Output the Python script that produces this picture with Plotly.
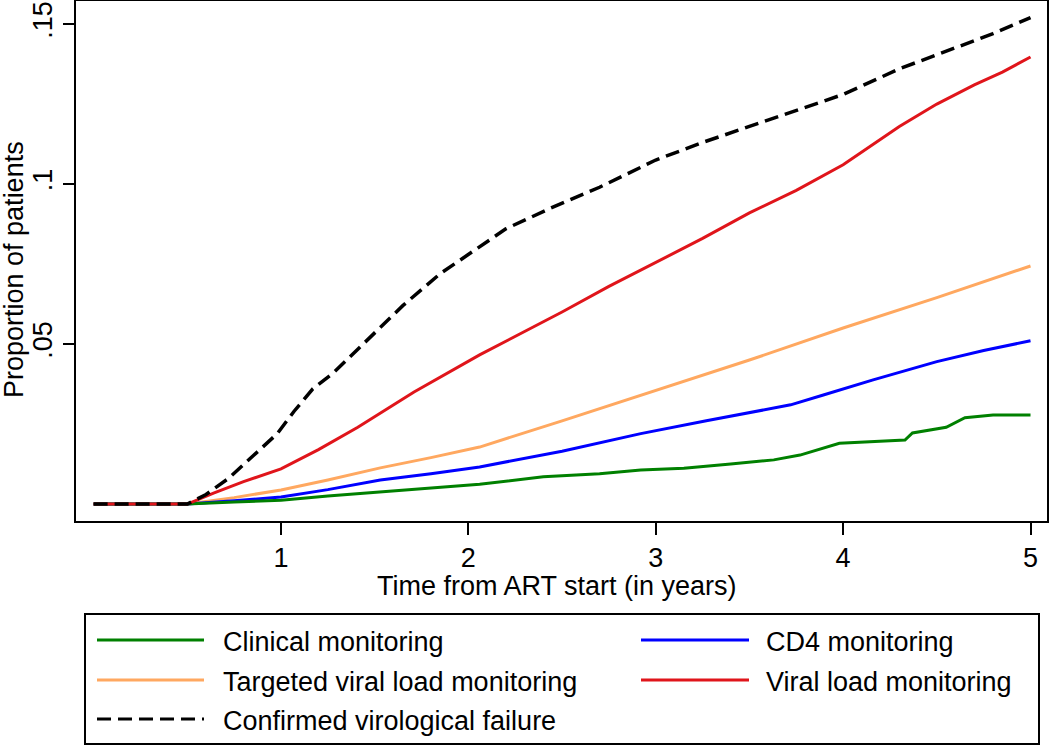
import plotly.graph_objects as go

# ---- data ----
t_clin = [0, 0.5, 0.75, 1.0, 1.25, 1.53, 1.8, 2.06, 2.4, 2.7, 2.92, 3.15, 3.4, 3.63, 3.77, 3.98, 4.33, 4.37, 4.55, 4.65, 4.8, 5.0]
v_clin = [0, 0, 0.0006, 0.0012, 0.0025, 0.0038, 0.005, 0.0062, 0.0085, 0.0095, 0.0106, 0.0112, 0.0125, 0.0138, 0.0153, 0.019, 0.020, 0.0222, 0.024, 0.027, 0.0278, 0.0278]

t_cd4 = [0, 0.5, 0.75, 1.0, 1.25, 1.53, 1.8, 2.06, 2.5, 2.92, 3.27, 3.5, 3.72, 3.89, 4.16, 4.5, 4.75, 5.0]
v_cd4 = [0, 0, 0.001, 0.0022, 0.0045, 0.0075, 0.0095, 0.0116, 0.0165, 0.022, 0.026, 0.0285, 0.031, 0.034, 0.0388, 0.0445, 0.048, 0.051]

t_tvl = [0, 0.5, 0.75, 1.0, 1.25, 1.53, 1.8, 2.06, 2.5, 2.92, 3.5, 4.0, 4.5, 5.0]
v_tvl = [0, 0, 0.002, 0.0044, 0.0075, 0.0113, 0.0145, 0.0178, 0.026, 0.034, 0.045, 0.055, 0.0645, 0.0744]

t_vl = [0, 0.5, 0.64, 0.8, 1.0, 1.2, 1.41, 1.71, 2.06, 2.3, 2.5, 2.75, 3.0, 3.25, 3.5, 3.75, 4.0, 4.3, 4.5, 4.7, 4.85, 5.0]
v_vl = [0, 0, 0.0034, 0.007, 0.011, 0.017, 0.024, 0.035, 0.0466, 0.054, 0.060, 0.068, 0.0755, 0.083, 0.091, 0.098, 0.106, 0.118, 0.125, 0.131, 0.135, 0.1397]

t_cvf = [0, 0.5, 0.6, 0.72, 0.85, 0.98, 1.07, 1.17, 1.28, 1.44, 1.65, 1.85, 2.0, 2.2, 2.44, 2.7, 3.0, 3.25, 3.5, 3.75, 4.0, 4.3, 4.55, 4.8, 5.0]
v_cvf = [0, 0, 0.003, 0.008, 0.015, 0.022, 0.029, 0.036, 0.041, 0.050, 0.062, 0.072, 0.078, 0.086, 0.0925, 0.099, 0.1075, 0.113, 0.118, 0.123, 0.128, 0.136, 0.1415, 0.147, 0.152]

x_ticks = [1, 2, 3, 4, 5]
y_ticks = [0.05, 0.1, 0.15]
y_tick_text = [".05", ".1", ".15"]

names = ["Clinical monitoring", "CD4 monitoring", "Targeted viral load monitoring",
         "Viral load monitoring", "Confirmed virological failure"]
colors = ["#008000", "#0000ff", "#ffa860", "#e0151b", "#000000"]
DASH = "14px,7px"

FONT = "Liberation Sans, Arial, sans-serif"
FS = 27

series = [
    (t_tvl, v_tvl, 2),
    (t_cd4, v_cd4, 1),
    (t_clin, v_clin, 0),
    (t_vl, v_vl, 3),
    (t_cvf, v_cvf, 4),
]

fig = go.Figure()
for t, v, i in series:
    fig.add_trace(go.Scatter(
        x=t, y=v, mode="lines", name=names[i], showlegend=False, hoverinfo="skip",
        line=dict(color=colors[i], width=3.5 if i == 4 else 3, dash=DASH if i == 4 else "solid"),
    ))

# ---- layout geometry (pixels) ----
W, H = 1050, 746
L, R, T, B = 76, 1047, 1, 521
pw, ph = R - L, B - T

def px(x):
    return (x - L) / pw

def py(y):
    return (B - y) / ph

fig.update_layout(
    width=W, height=H,
    margin=dict(l=L, r=W - R, t=T, b=H - B, pad=0, autoexpand=False),
    paper_bgcolor="white", plot_bgcolor="white",
    font=dict(family=FONT, size=FS, color="black"),
    xaxis=dict(range=[-0.094, 5.088], tickvals=x_ticks, ticks="outside", ticklen=12,
               tickwidth=2, tickcolor="black", showgrid=False, zeroline=False,
               showline=True, linewidth=2, linecolor="black", mirror=True,
               tickfont=dict(size=FS), ticklabelstandoff=0, automargin=False),
    yaxis=dict(range=[-0.0053, 0.1572], tickvals=y_ticks, ticktext=y_tick_text,
               ticks="outside", ticklen=11, tickwidth=2, tickcolor="black",
               showgrid=False, zeroline=False, showline=True, linewidth=2,
               linecolor="black", mirror=True, tickangle=-90,
               tickfont=dict(size=FS), ticklabelstandoff=0, automargin=False),
    showlegend=False,
)

annotations = [
    dict(text="Time from ART start (in years)", x=px(557), y=py(586), xref="paper", yref="paper",
         showarrow=False, xanchor="center", yanchor="middle", font=dict(size=FS)),
    dict(text="Proportion of patients", x=px(14), y=py(270), xref="paper", yref="paper",
         showarrow=False, xanchor="center", yanchor="middle", textangle=-90, font=dict(size=FS)),
]

shapes = [
    dict(type="rect", xref="paper", yref="paper", x0=px(85), x1=px(1039), y0=py(744), y1=py(614),
         line=dict(color="black", width=2), fillcolor="rgba(0,0,0,0)", layer="above"),
]

# legend entries: (index, line x0, line x1, text x, row y)
legend_pos = [
    (0, 97, 204, 221, 640),
    (1, 641, 749, 764, 640),
    (2, 97, 204, 221, 680),
    (3, 641, 749, 764, 680),
    (4, 97, 204, 221, 719),
]
for i, x0, x1, tx, yy in legend_pos:
    shapes.append(dict(type="line", xref="paper", yref="paper", x0=px(x0), x1=px(x1),
                       y0=py(yy), y1=py(yy),
                       line=dict(color=colors[i], width=3, dash=DASH if i == 4 else "solid")))
    annotations.append(dict(text=names[i], x=px(tx), y=py(yy + 2), xref="paper", yref="paper",
                            showarrow=False, xanchor="left", yanchor="middle", font=dict(size=FS)))

fig.update_layout(annotations=annotations, shapes=shapes)

fig.write_html("out.html", config={"displayModeBar": False},
               post_script="document.body.style.margin='0';document.body.style.padding='0';")
